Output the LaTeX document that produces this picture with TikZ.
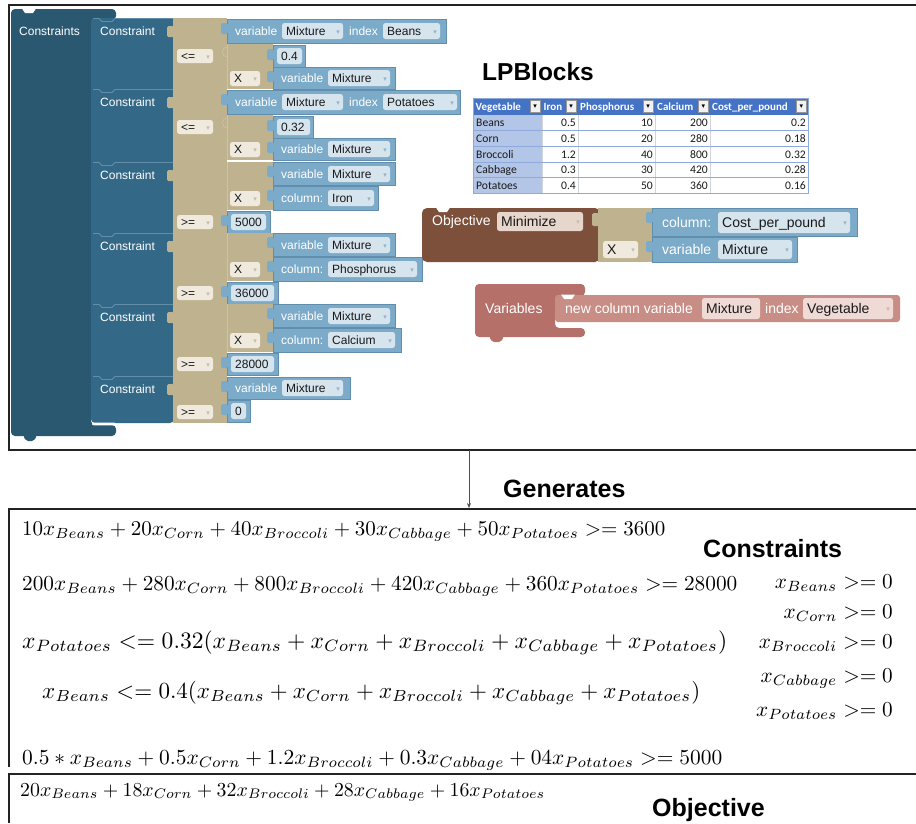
\documentclass[tikz,border=0pt]{standalone}
\usepackage[no-math]{fontspec}
\usepackage{graphicx}
\setmainfont{Liberation Sans}
\newfontfamily\tblfont{Carlito}
\newfontfamily\symfont{DejaVu Sans}
\usetikzlibrary{arrows.meta}

% block palette
\definecolor{cOuter}{RGB}{43,88,113}
\definecolor{cCons}{RGB}{52,104,135}
\definecolor{cConsEdge}{RGB}{98,142,170}
\definecolor{cTan}{RGB}{191,179,143}
\definecolor{cTanEdge}{RGB}{206,196,165}
\definecolor{cTanFld}{RGB}{239,234,221}
\definecolor{cBlue}{RGB}{124,170,201}
\definecolor{cBlueEdge}{RGB}{98,142,174}
\definecolor{cBlueFld}{RGB}{214,228,238}
\definecolor{cInk}{RGB}{25,25,25}
\definecolor{cArrBlue}{RGB}{150,178,200}
\definecolor{cArrTan}{RGB}{196,188,166}
\definecolor{cObj}{RGB}{124,80,58}
\definecolor{cObjFld}{RGB}{230,214,204}
\definecolor{cVar}{RGB}{181,113,105}
\definecolor{cVarIn}{RGB}{200,141,133}
\definecolor{cVarFld}{RGB}{239,218,214}
\definecolor{cArrVar}{RGB}{205,180,176}
% spreadsheet palette
\definecolor{cHead}{RGB}{68,114,196}
\definecolor{cFirst}{RGB}{180,198,231}
\definecolor{cGrid}{RGB}{142,169,219}
\definecolor{cVgrid}{RGB}{208,212,220}
\definecolor{cBtn}{RGB}{242,242,242}
\definecolor{cBtnEdge}{RGB}{150,150,150}
% frames
\definecolor{cFrame}{RGB}{35,35,35}
\definecolor{cLink}{RGB}{80,80,80}

\newcommand\fs[1]{\fontsize{#1}{#1}\selectfont}

% one common scale for the non-negativity column
\newsavebox\nnbox
\sbox\nnbox{$x_{Beans}>=0$}
\pgfmathsetmacro\nnscale{118/\wd\nnbox}
\newcommand\nn[1]{\scalebox{\nnscale}{$#1$}}

\tikzset{
  tanbk/.style={fill=cTan},
  lbl/.style={inner sep=0pt, anchor=base west, text=white, font=\fs{12}},
  lblb/.style={lbl, font=\fs{14}},
  ftx/.style={inner sep=0pt, anchor=base west, text=cInk, font=\fs{12}},
  ftxb/.style={ftx, font=\fs{14}, yshift=-1pt},
  arrw/.style={inner sep=0pt, anchor=base east, font=\symfont\fs{7}},
  heading/.style={inner sep=0pt, anchor=base west, font=\bfseries\fs{25}, text=black},
  frame/.style={draw=cFrame, line width=1.1pt},
  eqn/.style={inner sep=0pt, anchor=base west},
  eqr/.style={inner sep=0pt, anchor=base east},
  hdr/.style={inner sep=0pt, anchor=base west, text=white, font=\tblfont\bfseries\fs{11}},
  cell/.style={inner sep=0pt, anchor=base east, text=cInk, font=\tblfont\fs{11.6}},
  sep/.style={draw=cConsEdge, line width=.8pt},
  tanline/.style={draw=cTanEdge, line width=.6pt},
}

% field: fill, text style, name, x1, y1, x2, y2, text
\newcommand\fld[8]{%
  \path[fill=#1, rounded corners=2.5pt] (#4,#5) rectangle (#6,#7);
  \node[#2] (#3) at ({#4+4},{(#5+#7)/2+4}) {#8};}
% dropdown field: fill, text style, arrow colour, name, x1, y1, x2, y2, text
\newcommand\dd[9]{%
  \fld{#1}{#2}{#4}{#5}{#6}{#7}{#8}{#9}%
  \node[arrw, text=#3] (#4-arrow) at ({#7-3},{(#6+#8)/2+3}) {▾};}
% light blue value block with its input tab: x1, y1, x2, y2
\newcommand\bluebk[4]{%
  \path[fill=cBlue, draw=cBlueEdge, line width=.5pt] (#1,#2) rectangle (#3,#4);
  \path[fill=cBlue, rounded corners=1.5pt] ({#1-6},{#2+4}) rectangle ({#1+1},{#2+15});}
% input tab of a tan comparison block: top
\newcommand\cmptab[1]{%
  \path[fill=cTan, rounded corners=1.5pt] (167,{#1+8}) rectangle (174,{#1+19});}
% tan product block: top, bottom (light left edge only)
\newcommand\multbk[2]{%
  \path[tanbk] (227,#1) rectangle (273,#2);
  \draw[tanline] (227.3,#1) -- (227.3,#2);}

% constraint "var[index] <= ratio * var": tag, top, key, key field right, block right, ratio, ratio block right, ratio field right
\newcommand\ratiocons[8]{%
  \cmptab{#2}
  \multbk{#2+25}{#2+71}
  \draw[tanline] (227,#2+29) .. controls (221,#2+29) and (221,#2+39) .. (227,#2+39);
  \bluebk{227}{#2+1}{#5}{#2+25}
  \node[lbl] (#1-var) at (235,#2+17) {variable};
  \dd{cBlueFld}{ftx}{cArrBlue}{#1-mix}{282}{#2+5}{343}{#2+21}{Mixture}
  \node[lbl] (#1-idx) at (349,#2+17) {index};
  \dd{cBlueFld}{ftx}{cArrBlue}{#1-key}{383}{#2+5}{#4}{#2+21}{#3}
  \dd{cTanFld}{ftx}{cArrTan}{#1-op}{177}{#2+31}{213}{#2+45}{<=}
  \bluebk{273}{#2+27}{#7}{#2+49}
  \fld{cBlueFld}{ftx}{#1-num}{277}{#2+30}{#8}{#2+46}{#6}
  \dd{cTanFld}{ftx}{cArrTan}{#1-x}{230}{#2+53}{260}{#2+68}{X}
  \bluebk{273}{#2+49}{395}{#2+71}
  \node[lbl] (#1-var2) at (281,#2+64) {variable};
  \dd{cBlueFld}{ftx}{cArrBlue}{#1-mix2}{328}{#2+52}{390}{#2+68}{Mixture}}

% constraint "var * column >= bound": tag, top, column, column block right, column field right, bound, bound block right, bound field right
\newcommand\prodcons[8]{%
  \cmptab{#2}
  \multbk{#2}{#2+48}
  \bluebk{273}{#2}{395}{#2+23}
  \node[lbl] (#1-var) at (281,#2+16) {variable};
  \dd{cBlueFld}{ftx}{cArrBlue}{#1-mix}{328}{#2+4}{390}{#2+20}{Mixture}
  \dd{cTanFld}{ftx}{cArrTan}{#1-x}{230}{#2+29}{260}{#2+44}{X}
  \bluebk{273}{#2+24}{#4}{#2+48}
  \node[lbl] (#1-col) at (281,#2+40) {column:};
  \dd{cBlueFld}{ftx}{cArrBlue}{#1-cf}{328}{#2+28}{#5}{#2+44}{#3}
  \dd{cTanFld}{ftx}{cArrTan}{#1-op}{177}{#2+53}{213}{#2+67}{>=}
  \bluebk{227}{#2+49}{#7}{#2+71}
  \fld{cBlueFld}{ftx}{#1-num}{231}{#2+52}{#8}{#2+68}{#6}}

\begin{document}
\begin{tikzpicture}[x=1pt, y=-1pt]
\useasboundingbox (0,0) rectangle (916,823);
\fill[white] (0,0) rectangle (916,823);

% ---------- frames ----------
\draw[frame] (916,5) -- (9,5) -- (9,450) -- (916,450);
\draw[frame] (916,509) -- (9,509) -- (9,767);
\draw[frame] (916,774) -- (9,774) -- (9,823);
\coordinate (gen-from) at (469,450);
\coordinate (gen-to) at (469,508);
\draw[cLink, line width=.7pt, -{Stealth[length=5pt,width=4pt]}] (gen-from) -- (gen-to);
\node[heading] (gen) at (503,497) {Generates};

% ---------- Constraints statement block ----------
\path[fill=cOuter, rounded corners=4pt] (11,9) -- (116,9) -- (116,20) -- (91,20) -- (91,425)
  -- (116,425) -- (116,436) -- (11,436) -- cycle;
\fill[white] (22,8.5) -- (36,8.5) -- (33,13) -- (25,13) -- cycle;
\path[fill=cOuter, rounded corners=2pt] (23,435) -- (37,435) -- (34,441) -- (26,441) -- cycle;
\node[lbl] (cons-title) at (19,35) {Constraints};

\path[fill=cCons, rounded corners=4pt] (91,423) -- (91,18) -- (174,18) -- (174,423) -- cycle;
\path[fill=white, rounded corners=2pt] (92,422.6) -- (116,422.6) -- (116,425.4) -- (92,425.4) -- cycle;
% comparison blocks, stacked without gaps
\path[tanbk] (173,18) rectangle (227,423);
\foreach \t in {18,89,162,233,304,376}
  \draw[sep] (93,\t+.5) -- (99,\t+.5) -- (102,\t+3.5) -- (112,\t+3.5) -- (115,\t+.5) -- (173,\t+.5);
\foreach \t/\i in {18/1,89/2,162/3,233/4,304/5,376/6}
  \node[lbl] (cons\i-lbl) at (100,\t+17) {Constraint};

\ratiocons{c1}{18}{Beans}{440}{446}{0.4}{305}{302}
\ratiocons{c2}{89}{Potatoes}{457}{460}{0.32}{313}{310}
\prodcons{c3}{162}{Iron}{378}{374}{5000}{270}{266}
\prodcons{c4}{233}{Phosphorus}{422}{417}{36000}{278}{274}
\prodcons{c5}{304}{Calcium}{401}{395}{28000}{278}{274}

% last constraint: variable >= 0
\cmptab{376}
\bluebk{227}{377}{350}{399}
\node[lbl] (c6-var) at (235,392) {variable};
\dd{cBlueFld}{ftx}{cArrBlue}{c6-mix}{282}{380}{343}{396}{Mixture}
\dd{cTanFld}{ftx}{cArrTan}{c6-op}{177}{405}{213}{419}{>=}
\bluebk{227}{400}{250}{422}
\fld{cBlueFld}{ftx}{c6-num}{231}{403}{246}{419}{0}

% ---------- title and data table ----------
\node[heading, font=\bfseries\fs{24.5}] (title) at (482,80) {LPBlocks};

\path[fill=white] (473,98) rectangle (808,193);
\path[fill=cHead] (473,98) rectangle (808,115);
\path[fill=cFirst] (473,115) rectangle (542,193);
\foreach \x in {542,578,655,710}
  \draw[cVgrid, line width=.5pt] (\x,115) -- (\x,193);
\foreach \y in {130.6,146.2,161.8,177.4}
  \draw[cGrid, line width=.6pt] (473,\y) -- (808,\y);
\draw[cGrid, line width=.8pt] (473,98) rectangle (808,193);
\foreach \x/\txt/\rgt [count=\i] in {475.5/Vegetable/542, 543.5/Iron/578, 580/Phosphorus/655, 657/Calcium/710, 712/Cost\_per\_pound/808}{
  \node[hdr] (head\i) at (\x,110.5) {\txt};
  \path[fill=cBtn, draw=cBtnEdge, line width=.4pt] (\rgt-12,100.5) rectangle (\rgt-1.5,112.5);
  \node[inner sep=0pt, font=\symfont\fs{7}, text=black] (head\i-btn) at (\rgt-6.75,106.5) {▾};
}
\foreach \veg/\fe/\ph/\ca/\co [count=\rw] in {Beans/0.5/10/200/0.2, Corn/0.5/20/280/0.18,
    Broccoli/1.2/40/800/0.32, Cabbage/0.3/30/420/0.28, Potatoes/0.4/50/360/0.16}{
  \pgfmathsetmacro\yb{115+15.6*\rw-3.8}
  \node[cell, anchor=base west] (veg\rw) at (476,\yb) {\veg};
  \node[cell] (iron\rw) at (576,\yb) {\fe};
  \node[cell] (phos\rw) at (653,\yb) {\ph};
  \node[cell] (calc\rw) at (708,\yb) {\ca};
  \node[cell] (cost\rw) at (806,\yb) {\co};
}

% ---------- Objective block ----------
\path[fill=cObj, rounded corners=5pt] (422,208) rectangle (600,262);
\fill[white] (436,207.5) -- (450,207.5) -- (447,212) -- (439,212) -- cycle;
\node[lblb] (obj-lbl) at (432,225) {Objective};
\dd{cObjFld}{ftxb}{cArrTan}{obj-sense}{497}{212}{583}{231}{Minimize}
\path[fill=cTan, rounded corners=1.5pt] (592,213) rectangle (599,226);
\path[tanbk] (598,208) rectangle (652,262);
\dd{cTanFld}{ftxb}{cArrTan}{obj-x}{603}{241}{638}{258}{X}
\bluebk{652}{208}{857}{236}
\node[lblb] (obj-col) at (662,227) {column:};
\dd{cBlueFld}{ftxb}{cArrBlue}{obj-colf}{718}{212}{850}{233}{Cost\_per\_pound}
\bluebk{652}{237}{797}{262}
\node[lblb] (obj-var) at (662,254) {variable};
\dd{cBlueFld}{ftxb}{cArrBlue}{obj-mix}{718}{240}{792}{259}{Mixture}

% ---------- Variables block ----------
\path[fill=cVar, rounded corners=4pt] (475,284) -- (585,284) -- (585,296) -- (555,296) -- (555,328)
  -- (585,328) -- (585,337) -- (475,337) -- cycle;
\path[fill=cVar, rounded corners=2pt] (489,336) -- (504,336) -- (501,342) -- (492,342) -- cycle;
\node[lblb] (var-lbl) at (485,313) {Variables};
\path[fill=cVarIn, rounded corners=3pt] (555,295) rectangle (900,322);
\fill[white] (561,294.5) -- (575,294.5) -- (572,299) -- (564,299) -- cycle;
\node[lblb] (var-new) at (565,313) {new column variable};
\fld{cVarFld}{ftxb}{var-name}{702}{298}{760}{319}{Mixture}
\node[lblb] (var-idx) at (765,313) {index};
\dd{cVarFld}{ftxb}{cArrVar}{var-key}{803}{298}{893}{319}{Vegetable}

% ---------- generated model ----------
\node[heading] (cons-head) at (703,557) {Constraints};
\node[eqn] (eq-phos) at (22,535) {\resizebox{643pt}{!}{$10x_{Beans}+20x_{Corn}+40x_{Broccoli}+30x_{Cabbage}+50x_{Potatoes}>=3600$}};
\node[eqn] (eq-calc) at (22,590) {\resizebox{715pt}{!}{$200x_{Beans}+280x_{Corn}+800x_{Broccoli}+420x_{Cabbage}+360x_{Potatoes}>=28000$}};
\node[eqn] (eq-pot) at (22,648) {\resizebox{705pt}{!}{$x_{Potatoes}<=0.32(x_{Beans}+x_{Corn}+x_{Broccoli}+x_{Cabbage}+x_{Potatoes})$}};
\node[eqn] (eq-bean) at (42,698) {\resizebox{658pt}{!}{$x_{Beans}<=0.4(x_{Beans}+x_{Corn}+x_{Broccoli}+x_{Cabbage}+x_{Potatoes})$}};
\node[eqn] (eq-iron) at (22,764) {\resizebox{700pt}{!}{$0.5*x_{Beans}+0.5x_{Corn}+1.2x_{Broccoli}+0.3x_{Cabbage}+04x_{Potatoes}>=5000$}};

\node[eqr] (nn-beans) at (893,588) {\nn{x_{Beans}>=0}};
\node[eqr] (nn-corn) at (893,618) {\nn{x_{Corn}>=0}};
\node[eqr] (nn-broc) at (893,648) {\nn{x_{Broccoli}>=0}};
\node[eqr] (nn-cabb) at (893,682) {\nn{x_{Cabbage}>=0}};
\node[eqr] (nn-pota) at (893,716) {\nn{x_{Potatoes}>=0}};

\node[eqn] (obj-eq) at (20,796) {\resizebox{525pt}{!}{$20x_{Beans}+18x_{Corn}+32x_{Broccoli}+28x_{Cabbage}+16x_{Potatoes}$}};
\node[heading] (obj-head) at (652,816) {Objective};
\end{tikzpicture}
\end{document}
